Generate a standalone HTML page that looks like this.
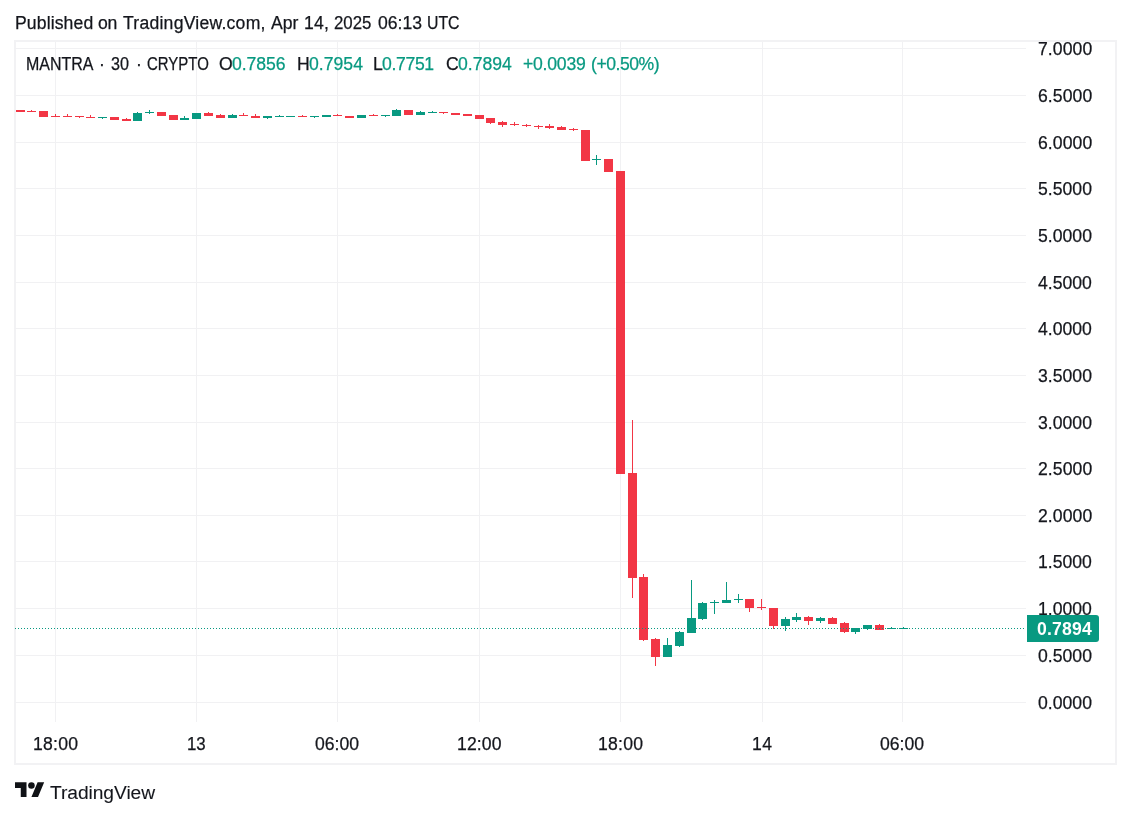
<!DOCTYPE html>
<html lang="en"><head><meta charset="utf-8"><title>MANTRA chart</title>
<style>
html,body{margin:0;padding:0;background:#fff;}
body{width:1131px;height:817px;position:relative;overflow:hidden;font-family:"Liberation Sans",sans-serif;color:#14161c;}
.a{position:absolute;}
.t{position:absolute;white-space:nowrap;font-size:17.6px;-webkit-text-stroke:0.25px currentColor;transform:rotate(0.02deg);line-height:20px;height:20px;}
.hg{position:absolute;left:15px;width:1011px;height:1px;background:#f1f1f3;}
.vg{position:absolute;top:42px;height:680px;width:1px;background:#f1f1f3;}
.g{color:#089981;}
.w{color:#fff;}
.c{position:absolute;}
</style></head><body>
<div class="t" style="left:14.65px;top:12.60px;letter-spacing:0.112px;">Published</div><div class="t" style="left:97.90px;top:12.60px;letter-spacing:-0.300px;">on</div><div class="t" style="left:123.25px;top:12.60px;letter-spacing:0.237px;">TradingView.com,</div><div class="t" style="left:270.60px;top:12.60px;letter-spacing:-0.025px;">Apr</div><div class="t" style="left:303.65px;top:12.60px;letter-spacing:0.275px;">14,</div><div class="t" style="left:334.18px;top:12.60px;transform-origin:0 50%;transform:rotate(0.02deg) scaleX(0.9563);">2025</div><div class="t" style="left:377.50px;top:12.60px;">06:13</div><div class="t" style="left:427.38px;top:12.60px;transform-origin:0 50%;transform:rotate(0.02deg) scaleX(0.8993);">UTC</div>
<div class="a" style="left:14px;top:40px;width:1099px;height:721px;border:2px solid #f2f2f4;box-sizing:content-box;"></div>
<div class="hg" style="top:48px"></div><div class="hg" style="top:95px"></div><div class="hg" style="top:142px"></div><div class="hg" style="top:188px"></div><div class="hg" style="top:235px"></div><div class="hg" style="top:282px"></div><div class="hg" style="top:328px"></div><div class="hg" style="top:375px"></div><div class="hg" style="top:422px"></div><div class="hg" style="top:468px"></div><div class="hg" style="top:515px"></div><div class="hg" style="top:561px"></div><div class="hg" style="top:608px"></div><div class="hg" style="top:655px"></div><div class="hg" style="top:702px"></div>
<div class="vg" style="left:55px"></div><div class="vg" style="left:196px"></div><div class="vg" style="left:337px"></div><div class="vg" style="left:479px"></div><div class="vg" style="left:620px"></div><div class="vg" style="left:762px"></div><div class="vg" style="left:902px"></div>
<div class="t" style="left:25.96px;top:53.80px;transform-origin:0 50%;transform:rotate(0.02deg) scaleX(0.9082);">MANTRA</div><div class="t" style="left:98.90px;top:53.80px;">·</div><div class="t" style="left:111.34px;top:53.80px;transform-origin:0 50%;transform:rotate(0.02deg) scaleX(0.9189);">30</div><div class="t" style="left:135.65px;top:53.80px;">·</div><div class="t" style="left:147.06px;top:53.80px;transform-origin:0 50%;transform:rotate(0.02deg) scaleX(0.8505);">CRYPTO</div><div class="t" style="left:219.43px;top:53.80px;">O</div><div class="t g" style="left:232.30px;top:53.80px;letter-spacing:-0.070px;">0.7856</div><div class="t" style="left:296.57px;top:53.80px;">H</div><div class="t g" style="left:308.50px;top:53.80px;letter-spacing:0.020px;">0.7954</div><div class="t" style="left:373.05px;top:53.80px;">L</div><div class="t g" style="left:382.40px;top:53.80px;letter-spacing:-0.340px;">0.7751</div><div class="t" style="left:446.02px;top:53.80px;">C</div><div class="t g" style="left:457.80px;top:53.80px;letter-spacing:-0.020px;">0.7894</div><div class="t g" style="left:522.65px;top:53.80px;letter-spacing:-0.225px;">+0.0039</div><div class="t g" style="left:591.10px;top:53.80px;letter-spacing:-0.471px;">(+0.50%)</div>
<div class="c" style="left:16px;top:110px;width:9px;height:2px;background:#f23645"></div><div class="c" style="left:31px;top:110px;width:1px;height:2px;background:#f23645"></div><div class="c" style="left:27px;top:111px;width:9px;height:1px;background:#f23645"></div><div class="c" style="left:39px;top:111px;width:9px;height:6px;background:#f23645"></div><div class="c" style="left:55px;top:114px;width:1px;height:3px;background:#f23645"></div><div class="c" style="left:51px;top:116px;width:9px;height:1px;background:#f23645"></div><div class="c" style="left:67px;top:114px;width:1px;height:3px;background:#f23645"></div><div class="c" style="left:63px;top:116px;width:9px;height:1px;background:#f23645"></div><div class="c" style="left:79px;top:116px;width:1px;height:2px;background:#f23645"></div><div class="c" style="left:75px;top:116px;width:9px;height:1px;background:#f23645"></div><div class="c" style="left:90px;top:115px;width:1px;height:3px;background:#f23645"></div><div class="c" style="left:86px;top:117px;width:9px;height:1px;background:#f23645"></div><div class="c" style="left:102px;top:117px;width:1px;height:2px;background:#089981"></div><div class="c" style="left:98px;top:117px;width:9px;height:1px;background:#089981"></div><div class="c" style="left:110px;top:117px;width:9px;height:3px;background:#f23645"></div><div class="c" style="left:126px;top:118px;width:1px;height:3px;background:#f23645"></div><div class="c" style="left:122px;top:119px;width:9px;height:2px;background:#f23645"></div><div class="c" style="left:137px;top:112px;width:1px;height:9px;background:#089981"></div><div class="c" style="left:133px;top:113px;width:9px;height:8px;background:#089981"></div><div class="c" style="left:149px;top:110px;width:1px;height:4px;background:#089981"></div><div class="c" style="left:145px;top:112px;width:9px;height:1px;background:#089981"></div><div class="c" style="left:157px;top:112px;width:9px;height:4px;background:#f23645"></div><div class="c" style="left:169px;top:115px;width:9px;height:5px;background:#f23645"></div><div class="c" style="left:184px;top:116px;width:1px;height:4px;background:#089981"></div><div class="c" style="left:180px;top:118px;width:9px;height:2px;background:#089981"></div><div class="c" style="left:192px;top:113px;width:9px;height:6px;background:#089981"></div><div class="c" style="left:208px;top:112px;width:1px;height:4px;background:#f23645"></div><div class="c" style="left:204px;top:113px;width:9px;height:3px;background:#f23645"></div><div class="c" style="left:220px;top:114px;width:1px;height:4px;background:#f23645"></div><div class="c" style="left:216px;top:115px;width:9px;height:3px;background:#f23645"></div><div class="c" style="left:232px;top:114px;width:1px;height:4px;background:#089981"></div><div class="c" style="left:228px;top:115px;width:9px;height:3px;background:#089981"></div><div class="c" style="left:243px;top:113px;width:1px;height:3px;background:#f23645"></div><div class="c" style="left:239px;top:115px;width:9px;height:1px;background:#f23645"></div><div class="c" style="left:255px;top:114px;width:1px;height:4px;background:#f23645"></div><div class="c" style="left:251px;top:116px;width:9px;height:2px;background:#f23645"></div><div class="c" style="left:267px;top:116px;width:1px;height:3px;background:#089981"></div><div class="c" style="left:263px;top:116px;width:9px;height:2px;background:#089981"></div><div class="c" style="left:279px;top:115px;width:1px;height:2px;background:#089981"></div><div class="c" style="left:275px;top:116px;width:9px;height:1px;background:#089981"></div><div class="c" style="left:286px;top:116px;width:9px;height:1px;background:#089981"></div><div class="c" style="left:302px;top:115px;width:1px;height:2px;background:#f23645"></div><div class="c" style="left:298px;top:116px;width:9px;height:1px;background:#f23645"></div><div class="c" style="left:314px;top:116px;width:1px;height:2px;background:#089981"></div><div class="c" style="left:310px;top:116px;width:9px;height:1px;background:#089981"></div><div class="c" style="left:322px;top:115px;width:9px;height:2px;background:#089981"></div><div class="c" style="left:337px;top:114px;width:1px;height:2px;background:#f23645"></div><div class="c" style="left:333px;top:115px;width:9px;height:1px;background:#f23645"></div><div class="c" style="left:345px;top:116px;width:9px;height:2px;background:#f23645"></div><div class="c" style="left:357px;top:115px;width:9px;height:3px;background:#089981"></div><div class="c" style="left:373px;top:114px;width:1px;height:2px;background:#f23645"></div><div class="c" style="left:369px;top:115px;width:9px;height:1px;background:#f23645"></div><div class="c" style="left:385px;top:115px;width:1px;height:2px;background:#089981"></div><div class="c" style="left:381px;top:115px;width:9px;height:1px;background:#089981"></div><div class="c" style="left:396px;top:109px;width:1px;height:7px;background:#089981"></div><div class="c" style="left:392px;top:110px;width:9px;height:6px;background:#089981"></div><div class="c" style="left:404px;top:110px;width:9px;height:5px;background:#f23645"></div><div class="c" style="left:420px;top:111px;width:1px;height:4px;background:#089981"></div><div class="c" style="left:416px;top:112px;width:9px;height:3px;background:#089981"></div><div class="c" style="left:432px;top:111px;width:1px;height:2px;background:#089981"></div><div class="c" style="left:428px;top:112px;width:9px;height:1px;background:#089981"></div><div class="c" style="left:443px;top:112px;width:1px;height:2px;background:#f23645"></div><div class="c" style="left:439px;top:112px;width:9px;height:1px;background:#f23645"></div><div class="c" style="left:451px;top:113px;width:9px;height:2px;background:#f23645"></div><div class="c" style="left:463px;top:114px;width:9px;height:2px;background:#f23645"></div><div class="c" style="left:475px;top:115px;width:9px;height:4px;background:#f23645"></div><div class="c" style="left:490px;top:118px;width:1px;height:6px;background:#f23645"></div><div class="c" style="left:486px;top:118px;width:9px;height:5px;background:#f23645"></div><div class="c" style="left:502px;top:121px;width:1px;height:6px;background:#f23645"></div><div class="c" style="left:498px;top:122px;width:9px;height:3px;background:#f23645"></div><div class="c" style="left:514px;top:122px;width:1px;height:4px;background:#f23645"></div><div class="c" style="left:510px;top:124px;width:9px;height:1px;background:#f23645"></div><div class="c" style="left:526px;top:124px;width:1px;height:3px;background:#f23645"></div><div class="c" style="left:522px;top:125px;width:9px;height:1px;background:#f23645"></div><div class="c" style="left:538px;top:125px;width:1px;height:4px;background:#f23645"></div><div class="c" style="left:534px;top:126px;width:9px;height:1px;background:#f23645"></div><div class="c" style="left:549px;top:124px;width:1px;height:5px;background:#f23645"></div><div class="c" style="left:545px;top:126px;width:9px;height:2px;background:#f23645"></div><div class="c" style="left:561px;top:126px;width:1px;height:4px;background:#f23645"></div><div class="c" style="left:557px;top:127px;width:9px;height:3px;background:#f23645"></div><div class="c" style="left:573px;top:128px;width:1px;height:3px;background:#f23645"></div><div class="c" style="left:569px;top:129px;width:9px;height:1px;background:#f23645"></div><div class="c" style="left:581px;top:130px;width:9px;height:31px;background:#f23645"></div><div class="c" style="left:596px;top:155px;width:1px;height:10px;background:#089981"></div><div class="c" style="left:592px;top:159px;width:9px;height:1px;background:#089981"></div><div class="c" style="left:604px;top:159px;width:9px;height:13px;background:#f23645"></div><div class="c" style="left:616px;top:171px;width:9px;height:303px;background:#f23645"></div><div class="c" style="left:632px;top:420px;width:1px;height:178px;background:#f23645"></div><div class="c" style="left:628px;top:473px;width:9px;height:105px;background:#f23645"></div><div class="c" style="left:643px;top:574px;width:1px;height:67px;background:#f23645"></div><div class="c" style="left:639px;top:577px;width:9px;height:63px;background:#f23645"></div><div class="c" style="left:655px;top:638px;width:1px;height:28px;background:#f23645"></div><div class="c" style="left:651px;top:639px;width:9px;height:18px;background:#f23645"></div><div class="c" style="left:667px;top:638px;width:1px;height:19px;background:#089981"></div><div class="c" style="left:663px;top:645px;width:9px;height:12px;background:#089981"></div><div class="c" style="left:679px;top:631px;width:1px;height:16px;background:#089981"></div><div class="c" style="left:675px;top:632px;width:9px;height:14px;background:#089981"></div><div class="c" style="left:691px;top:580px;width:1px;height:53px;background:#089981"></div><div class="c" style="left:687px;top:618px;width:9px;height:15px;background:#089981"></div><div class="c" style="left:702px;top:602px;width:1px;height:18px;background:#089981"></div><div class="c" style="left:698px;top:603px;width:9px;height:16px;background:#089981"></div><div class="c" style="left:714px;top:600px;width:1px;height:14px;background:#089981"></div><div class="c" style="left:710px;top:602px;width:9px;height:1px;background:#089981"></div><div class="c" style="left:726px;top:582px;width:1px;height:21px;background:#089981"></div><div class="c" style="left:722px;top:600px;width:9px;height:3px;background:#089981"></div><div class="c" style="left:738px;top:594px;width:1px;height:9px;background:#089981"></div><div class="c" style="left:734px;top:599px;width:9px;height:1px;background:#089981"></div><div class="c" style="left:749px;top:599px;width:1px;height:13px;background:#f23645"></div><div class="c" style="left:745px;top:599px;width:9px;height:9px;background:#f23645"></div><div class="c" style="left:761px;top:599px;width:1px;height:11px;background:#f23645"></div><div class="c" style="left:757px;top:607px;width:9px;height:1px;background:#f23645"></div><div class="c" style="left:773px;top:608px;width:1px;height:21px;background:#f23645"></div><div class="c" style="left:769px;top:608px;width:9px;height:18px;background:#f23645"></div><div class="c" style="left:785px;top:617px;width:1px;height:14px;background:#089981"></div><div class="c" style="left:781px;top:619px;width:9px;height:7px;background:#089981"></div><div class="c" style="left:796px;top:613px;width:1px;height:9px;background:#089981"></div><div class="c" style="left:792px;top:617px;width:9px;height:3px;background:#089981"></div><div class="c" style="left:808px;top:616px;width:1px;height:9px;background:#f23645"></div><div class="c" style="left:804px;top:617px;width:9px;height:4px;background:#f23645"></div><div class="c" style="left:820px;top:617px;width:1px;height:6px;background:#089981"></div><div class="c" style="left:816px;top:618px;width:9px;height:3px;background:#089981"></div><div class="c" style="left:832px;top:617px;width:1px;height:7px;background:#f23645"></div><div class="c" style="left:828px;top:618px;width:9px;height:6px;background:#f23645"></div><div class="c" style="left:844px;top:622px;width:1px;height:11px;background:#f23645"></div><div class="c" style="left:840px;top:623px;width:9px;height:9px;background:#f23645"></div><div class="c" style="left:855px;top:628px;width:1px;height:6px;background:#089981"></div><div class="c" style="left:851px;top:628px;width:9px;height:4px;background:#089981"></div><div class="c" style="left:867px;top:625px;width:1px;height:5px;background:#089981"></div><div class="c" style="left:863px;top:625px;width:9px;height:4px;background:#089981"></div><div class="c" style="left:879px;top:624px;width:1px;height:6px;background:#f23645"></div><div class="c" style="left:875px;top:625px;width:9px;height:5px;background:#f23645"></div><div class="c" style="left:891px;top:627px;width:1px;height:2px;background:#089981"></div><div class="c" style="left:887px;top:628px;width:9px;height:1px;background:#089981"></div><div class="c" style="left:903px;top:627px;width:1px;height:2px;background:#089981"></div><div class="c" style="left:899px;top:628px;width:9px;height:1px;background:#089981"></div>
<div class="a" style="left:15px;top:628px;width:1009px;height:1px;background:repeating-linear-gradient(90deg,#089981 0,#089981 1px,transparent 1px,transparent 3px);"></div>
<div class="t" style="left:1037.75px;top:38.60px;letter-spacing:0.080px;">7.0000</div><div class="t" style="left:1037.75px;top:85.60px;letter-spacing:0.080px;">6.5000</div><div class="t" style="left:1037.75px;top:132.60px;letter-spacing:0.080px;">6.0000</div><div class="t" style="left:1038.00px;top:178.60px;letter-spacing:0.030px;">5.5000</div><div class="t" style="left:1038.00px;top:225.60px;letter-spacing:0.030px;">5.0000</div><div class="t" style="left:1038.25px;top:272.60px;letter-spacing:-0.020px;">4.5000</div><div class="t" style="left:1038.25px;top:318.60px;letter-spacing:-0.020px;">4.0000</div><div class="t" style="left:1038.00px;top:365.60px;letter-spacing:0.030px;">3.5000</div><div class="t" style="left:1038.00px;top:412.60px;letter-spacing:0.030px;">3.0000</div><div class="t" style="left:1037.75px;top:458.60px;letter-spacing:0.080px;">2.5000</div><div class="t" style="left:1037.75px;top:505.60px;letter-spacing:0.080px;">2.0000</div><div class="t" style="left:1038.25px;top:551.60px;letter-spacing:-0.020px;">1.5000</div><div class="t" style="left:1038.25px;top:598.60px;letter-spacing:-0.020px;">1.0000</div><div class="t" style="left:1038.00px;top:645.60px;letter-spacing:0.030px;">0.5000</div><div class="t" style="left:1038.00px;top:692.60px;letter-spacing:0.030px;">0.0000</div><div class="a" style="left:1027px;top:615px;width:72px;height:27px;background:#089981;border-radius:0 3px 3px 0;"></div><div class="t w" style="left:1037.05px;top:618.90px;letter-spacing:0.200px;-webkit-text-stroke-width:0px;font-weight:700;">0.7894</div><div class="t" style="left:32.65px;top:733.70px;letter-spacing:0.237px;">18:00</div><div class="t" style="left:186.80px;top:733.70px;transform-origin:0 50%;transform:rotate(0.02deg) scaleX(0.9577);">13</div><div class="t" style="left:315.45px;top:733.70px;letter-spacing:0.025px;">06:00</div><div class="t" style="left:456.85px;top:733.70px;letter-spacing:0.137px;">12:00</div><div class="t" style="left:597.65px;top:733.70px;letter-spacing:0.238px;">18:00</div><div class="t" style="left:752.05px;top:733.70px;letter-spacing:0.400px;">14</div><div class="t" style="left:880.45px;top:733.70px;letter-spacing:0.025px;">06:00</div>
<svg class="a" style="left:15px;top:778.9px" width="29.6" height="23" viewBox="0 0 36 28"><path fill="#101216" d="M14 22H7V11H0V4h14v18zM28 22h-8l7.5-18h8L28 22z"/><circle fill="#101216" cx="20" cy="8" r="4"/></svg><div class="t" style="left:50.05px;top:782.80px;font-size:19.2px;letter-spacing:-0.050px;-webkit-text-stroke-width:0.1px;">TradingView</div>
</body></html>
